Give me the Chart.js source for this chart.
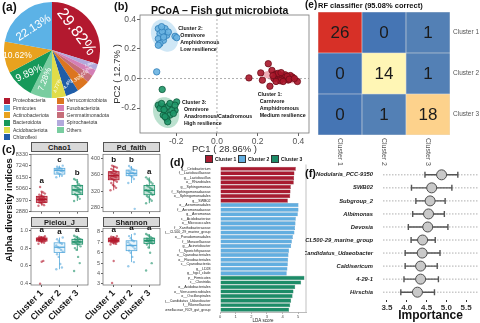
<!DOCTYPE html>
<html><head><meta charset="utf-8">
<script src="https://cdn.jsdelivr.net/npm/chart.js@4.4.1/dist/chart.umd.min.js"></script>
<style>
html,body{margin:0;padding:0;background:#fff;}
#root{position:relative;width:480px;height:323px;overflow:hidden;background:#fff;font-family:'Liberation Sans',Arial,sans-serif;}
.t{position:absolute;white-space:nowrap;line-height:1;color:#111;}
canvas{position:absolute;}
.strip{position:absolute;box-sizing:border-box;background:#d9d9d9;border:0.6px solid #555;font-weight:bold;font-size:7.5px;text-align:center;color:#1a1a1a;}
</style></head><body><div id="root"></div>
<script>
// ---------------- DATA ----------------
// (a) phylum composition
const phyla = ['Proteobacteria','Firmicutes','Actinobacteriota','Bacteroidota','Acidobacteriota','Chloroflexi','Verrucomicrobiota','Fusobacteriota','Gemmatimonadota','Spirochaetota','Others'];
const phylaPercent = [29.82,22.13,10.62,9.89,4.77,4.4,4.35,2.25,2.51,1.98,7.28];
const pieOrder = ['Proteobacteria','Spirochaetota','Fusobacteriota','Gemmatimonadota','Verrucomicrobiota','Chloroflexi','Acidobacteriota','Others','Bacteroidota','Actinobacteriota','Firmicutes'];

// (b) PCoA coordinates [PC1, PC2]
const clusters = ['Cluster 1','Cluster 2','Cluster 3'];
const pcoaCluster1 = [[0.157,0.004],[0.223,-0.011],[0.26,-0.052],[0.215,0.038],[0.252,0.100],[0.270,0.055],[0.290,0.030],[0.300,0.010],[0.310,0.020],[0.320,0.000],[0.330,0.005],[0.340,-0.002],[0.350,-0.010],[0.370,0.010],[0.395,-0.020],[0.310,-0.015],[0.280,0.000],[0.290,-0.020],[0.335,0.025],[0.360,0.020],[0.300,0.035],[0.325,-0.020],[0.345,0.015],[0.275,0.020],[0.315,0.040],[0.355,-0.005],[0.380,0.000]];
const pcoaCluster2 = [[-0.288,0.337],[-0.255,0.337],[-0.280,0.303],[-0.247,0.292],[-0.288,0.269],[-0.263,0.258],[-0.280,0.236],[-0.288,0.225],[-0.206,0.285],[-0.198,0.276],[-0.239,0.314],[-0.269,0.318],[-0.296,0.045],[-0.272,0.350],[-0.262,0.280]];
const pcoaCluster3 = [[-0.269,-0.074],[-0.288,-0.180],[-0.264,-0.191],[-0.239,-0.187],[-0.198,-0.158],[-0.206,-0.214],[-0.255,-0.225],[-0.231,-0.247],[-0.247,-0.270],[-0.264,-0.247],[-0.222,-0.214],[-0.280,-0.202],[-0.242,-0.292],[-0.214,-0.236],[-0.272,-0.169],[-0.231,-0.169],[-0.255,-0.258],[-0.206,-0.180],[-0.260,-0.210]];
const ellipseCenters = [[0.315,0.01],[-0.257,0.29],[-0.25,-0.23]];
const ellipseRadii = [[0.095,0.036],[0.065,0.11],[0.063,0.105]];
const ellipseAngles = [-0.25,0.2,0.15];
const clusterNotes = [['Cluster 1:','Carnivore','Amphidromous','Medium resilience'],['Cluster 2:','Omnivore','Amphidromous','Low resilience'],['Cluster 3:','Omnivore','Anadromous/Catadromous','High resilience']];

// (e) confusion matrix (rows = true, cols = predicted)
const confusion = [[26,0,1],[0,14,1],[0,1,18]];

// (c) alpha diversity: box stats [min, q1, median, q3, max] and sample values
const chao1Box = [[3450,3750,4045,4340,4790],[6150,6450,6800,7000,7250],[3900,4500,4950,5380,5980]];
const chao1Points = [[3450,3500,3600,3700,3750,3800,3850,3900,3950,3980,4000,4020,4045,4060,4100,4150,4180,4200,4250,4300,4340,4400,4500,4600,4700,4790,5230],[6150,6300,6450,6500,6600,6700,6750,6800,6850,6900,6950,7000,7050,7150,7250],[3900,4100,4300,4450,4550,4650,4750,4850,4900,4950,5000,5100,5200,5300,5350,5500,5700,5900,5980]];
const chao1Letters = ['a','c','b'];
const pdBox = [[322,348,358,368,383],[340,358,364,372,382],[290,311,322,334,354]];
const pdPoints = [[322,328,332,335,340,343,346,348,350,352,354,356,357,358,360,362,363,365,366,368,370,372,375,378,380,381,383],[340,350,355,358,360,362,364,366,368,370,372,375,378,382,276],[290,296,300,305,308,311,315,318,320,322,325,328,331,334,338,342,346,350,354]];
const pdLetters = ['b','b','a'];
const pielouBox = [[0.85,0.88,0.90,0.915,0.935],[0.56,0.75,0.81,0.86,0.92],[0.77,0.845,0.87,0.90,0.94]];
const pielouPoints = [[0.85,0.86,0.87,0.875,0.88,0.88,0.885,0.89,0.89,0.895,0.9,0.9,0.9,0.905,0.905,0.91,0.91,0.915,0.915,0.92,0.92,0.925,0.93,0.935,0.655,0.645,0.395],[0.56,0.58,0.62,0.70,0.73,0.76,0.78,0.80,0.81,0.83,0.85,0.86,0.88,0.90,0.92],[0.54,0.63,0.70,0.78,0.80,0.82,0.84,0.85,0.86,0.87,0.87,0.88,0.89,0.90,0.90,0.91,0.92,0.93,0.94]];
const pielouLetters = ['a','a','a'];
const shannonBox = [[6.8,7.05,7.2,7.4,7.6],[5.1,6.2,6.7,7.15,7.8],[6.4,6.9,7.15,7.4,7.8]];
const shannonPoints = [[6.8,6.85,6.9,6.95,7.0,7.05,7.05,7.1,7.1,7.15,7.15,7.2,7.2,7.2,7.25,7.3,7.3,7.35,7.4,7.4,7.45,7.5,7.55,7.6,7.0,5.2,3.1],[4.7,5.1,5.6,6.0,6.2,6.4,6.6,6.7,6.8,7.0,7.1,7.2,7.4,7.6,7.8],[4.3,5.0,6.0,6.5,6.8,6.9,7.0,7.05,7.1,7.15,7.2,7.25,7.3,7.35,7.4,7.5,7.6,7.7,7.8]];
const shannonLetters = ['a','a','a'];

// (d) LEfSe LDA scores
const ldaCluster1Taxa = ['g__Cetobacterium','f__Lactobacillaceae','g__Lactobacillus','o__Rhizobiales','g__Sphingomonas','f__Sphingomonadaceae','o__Sphingomonadales','g__SWB02'];
const ldaCluster1Scores = [4.85,4.76,4.74,4.72,4.53,4.51,4.49,4.34];
const ldaCluster2Taxa = ['o__Aeromonadales','f__Aeromonadaceae','g__Aeromonas','c__Acidobacteriae','o__Micrococcales','f__Xanthobacteraceae','g__CL500_29_marine_group','o__Pseudomonadales','f__Moraxellaceae','g__Acinetobacter','f__Sporichthyaceae','o__Cyanobacteriales','o__Flavobacteriales','c__Cyanobacteriia','g__LD28','g__hgcI_clade'];
const ldaCluster2Scores = [5.02,5.02,4.98,4.85,4.83,4.80,4.76,4.66,4.60,4.55,4.42,4.38,4.36,4.34,4.31,4.27];
const ldaCluster3Taxa = ['p__Firmicutes','c__Clostridia','o__Acidobacteriales','o__Verrucomicrobiales','o__Oscillospirales','g__Candidatus_Udaeobacter','f__Rikenellaceae','g__Rikenellaceae_RC9_gut_group'];
const ldaCluster3Scores = [5.40,5.19,4.81,4.70,4.64,4.55,4.49,4.42];

// (f) random forest importance
const featureNames = ['Nodularia_PCC-9350','SWB02','Subgroup_2','Albimonas','Devosia','CL500-29_marine_group','Candidatus_Udaeobacter','Caldisericum','4-29-1','Hirschia'];
const importanceMean = [4.88,4.63,4.59,4.55,4.53,4.40,4.39,4.35,4.35,4.27];
const importanceLow = [4.46,4.12,4.23,4.15,4.04,4.11,3.96,3.96,3.93,3.85];
const importanceHigh = [5.29,5.14,4.97,4.95,5.04,4.72,4.84,4.77,4.80,4.70];

// ---------------- STYLE / HELPERS ----------------
const FONT = "'Liberation Sans', Arial, sans-serif";
Chart.defaults.font.family = FONT;
Chart.defaults.color = '#4d4d4d';
Chart.defaults.plugins.legend.display = false;
Chart.defaults.plugins.tooltip.enabled = false;
Chart.defaults.animation = false;
const root = document.getElementById('root');
function mk(left, top, w, h, config){
  const c = document.createElement('canvas');
  c.width = w; c.height = h;
  c.style.left = left+'px'; c.style.top = top+'px';
  c.style.width = w+'px'; c.style.height = h+'px';
  root.appendChild(c);
  config.options = config.options || {};
  config.options.responsive = false;
  config.options.maintainAspectRatio = false;
  config.options.devicePixelRatio = 1;
  config.options.animation = false;
  return new Chart(c, config);
}
function txt(s, left, top, css){
  const d = document.createElement('div'); d.className = 't'; d.textContent = s;
  d.style.left = left+'px'; d.style.top = top+'px';
  if (css) d.style.cssText += css;
  root.appendChild(d); return d;
}
const clusterRGB = [[178,24,43],[86,169,220],[26,144,104]];
const rgba = (c,a)=>`rgba(${c[0]},${c[1]},${c[2]},${a})`;
const fmt = (v,d)=>(Math.abs(v)<1e-9?0:v).toFixed(d);

// ---------------- (a) PIE ----------------
const pieColor = {Proteobacteria:'#b3192f',Firmicutes:'#5cb2e6',Actinobacteriota:'#e8a21f',Bacteroidota:'#17995a',Acidobacteriota:'#e0dc48',Chloroflexi:'#1f5da8',Verrucomicrobiota:'#dc7520',Fusobacteriota:'#d47fb6',Gemmatimonadota:'#c66d79',Spirochaetota:'#b2a9dc',Others:'#79cda0'};
// [rotation deg, font px, radius fraction]
const pieLabelStyle = {Proteobacteria:[53,16,0.63],Spirochaetota:[-15,3.5,0.84],Fusobacteriota:[-18,3.5,0.84],Gemmatimonadota:[-22,4,0.82],Verrucomicrobiota:[-27,5,0.8],Chloroflexi:[-55,5,0.78],Acidobacteriota:[-70,5,0.76],Others:[-70,8.5,0.63],Bacteroidota:[-25,10,0.68],Actinobacteriota:[0,8.5,0.73],Firmicutes:[-33,11.5,0.6]};
const pieLabels = {
  id:'pieLabels',
  afterDatasetsDraw(chart){
    const ctx = chart.ctx, meta = chart.getDatasetMeta(0);
    meta.data.forEach((arc,i)=>{
      const name = pieOrder[i]; const [rot,size,fr] = pieLabelStyle[name];
      const mid = (arc.startAngle+arc.endAngle)/2, r = arc.outerRadius*fr;
      ctx.save();
      ctx.translate(arc.x+Math.cos(mid)*r, arc.y+Math.sin(mid)*r);
      ctx.rotate(rot*Math.PI/180);
      ctx.font = `${size}px ${FONT}`; ctx.fillStyle = '#fff';
      ctx.textAlign = 'center'; ctx.textBaseline = 'middle';
      ctx.fillText(chart.data.datasets[0].data[i]+'%',0,0);
      ctx.restore();
    });
  }
};
mk(4,2,96,96,{type:'pie',
  data:{labels:pieOrder, datasets:[{data:pieOrder.map(n=>phylaPercent[phyla.indexOf(n)]), backgroundColor:pieOrder.map(n=>pieColor[n]), borderWidth:0}]},
  options:{layout:{padding:0}},
  plugins:[pieLabels]});
phyla.forEach((n,i)=>{
  const col = i<6?0:1, row = i<6?i:i-6;
  const x = col?57:3.5, y = 97.7+row*7.3;
  const sq = document.createElement('div');
  sq.style.cssText = `position:absolute;left:${x}px;top:${y}px;width:6.5px;height:6px;background:${pieColor[n]}`;
  root.appendChild(sq);
  txt(n, x+9.5, y+0.6, 'font-size:5px;color:#333;');
});

// ---------------- (b) PCoA ----------------
const pcoaFill = ['rgba(168,22,42,0.9)','rgba(105,178,225,0.9)','rgba(30,150,104,0.9)'];
const pcoaEdge = ['#6e0c19','#2f7db8','#0e5a3c'];
const ellFill = ['rgba(226,120,134,0.6)','rgba(160,208,238,0.5)','rgba(120,196,160,0.5)'];
const noteAnchors = [[0.2,-0.106],[-0.19,0.339],[-0.172,-0.160]];
const pcoaPlugin = {
  id:'pcoaExtras',
  beforeDatasetsDraw(chart){
    const {ctx, chartArea:a, scales:{x,y}} = chart;
    ctx.save();
    ctx.beginPath(); ctx.rect(a.left,a.top,a.right-a.left,a.bottom-a.top); ctx.clip();
    ellipseCenters.forEach((c,k)=>{
      const [rx,ry] = ellipseRadii[k], ang = ellipseAngles[k];
      ctx.beginPath();
      for (let s=0;s<=72;s++){
        const t = s/72*2*Math.PI;
        const dx = rx*Math.cos(t), dy = ry*Math.sin(t);
        const px = x.getPixelForValue(c[0]+dx*Math.cos(ang)-dy*Math.sin(ang));
        const py = y.getPixelForValue(c[1]+dx*Math.sin(ang)+dy*Math.cos(ang));
        s?ctx.lineTo(px,py):ctx.moveTo(px,py);
      }
      ctx.closePath(); ctx.fillStyle = ellFill[k]; ctx.fill();
    });
    ctx.strokeStyle = '#8c8c8c'; ctx.lineWidth = 0.7; ctx.setLineDash([2,2]);
    const x0 = x.getPixelForValue(0), y0 = y.getPixelForValue(0);
    ctx.beginPath(); ctx.moveTo(x0,a.top); ctx.lineTo(x0,a.bottom); ctx.moveTo(a.left,y0); ctx.lineTo(a.right,y0); ctx.stroke();
    ctx.restore();
  },
  afterDraw(chart){
    const {ctx, chartArea:a, scales:{x,y}} = chart;
    ctx.save();
    ctx.strokeStyle = '#777'; ctx.lineWidth = 0.8;
    ctx.strokeRect(a.left,a.top,a.right-a.left,a.bottom-a.top);
    ctx.fillStyle = '#111'; ctx.font = `bold 5.3px ${FONT}`; ctx.textBaseline = 'middle';
    clusterNotes.forEach((lines,k)=>{
      const px = x.getPixelForValue(noteAnchors[k][0]), py = y.getPixelForValue(noteAnchors[k][1]);
      lines.forEach((l,j)=>ctx.fillText(l, px+(j?2:0), py+j*7));
    });
    ctx.restore();
  }
};
mk(112,0,200,160,{type:'scatter',
  data:{datasets:[pcoaCluster1,pcoaCluster2,pcoaCluster3].map((pts,k)=>({label:clusters[k], data:pts.map(p=>({x:p[0],y:p[1]})), pointRadius:3.2, pointBackgroundColor:pcoaFill[k], pointBorderColor:pcoaEdge[k], pointBorderWidth:0.8}))},
  options:{layout:{padding:{left:0,right:3,top:15,bottom:5},autoPadding:false},
    scales:{
      x:{type:'linear',min:-0.378,max:0.452,afterFit(s){s.height=22;},border:{display:false},
         grid:{display:true,drawOnChartArea:false,drawTicks:true,tickLength:3,color:'#666'},
         ticks:{stepSize:0.2,includeBounds:false,padding:1,font:{size:8.5},color:'#555',callback:v=>fmt(v,1)},
         title:{display:true,text:'PC1 ( 28.96% )',font:{size:9.5},color:'#333',padding:{top:0,bottom:0}}},
      y:{type:'linear',min:-0.368,max:0.429,afterFit(s){s.width=28;},border:{display:false},
         grid:{display:true,drawOnChartArea:false,drawTicks:true,tickLength:3,color:'#666'},
         ticks:{stepSize:0.2,includeBounds:false,padding:1,font:{size:8.5},color:'#555',callback:v=>fmt(v,1)},
         title:{display:true,text:'PC2 ( 12.7% )',font:{size:9.5},color:'#333',padding:{top:0,bottom:0}}}
    }},
  plugins:[pcoaPlugin]});

// ---------------- (e) HEATMAP ----------------
const maxCount = Math.max(...confusion.flat());
const hmStops = [[0,[69,117,180]],[0.5,[255,255,191]],[0.7,[253,208,138]],[1,[215,48,39]]];
function hmColor(v){
  const t = v/maxCount;
  for (let i=1;i<hmStops.length;i++){
    if (t<=hmStops[i][0]){
      const [t0,c0] = hmStops[i-1], [t1,c1] = hmStops[i], f = (t-t0)/(t1-t0);
      return `rgb(${c0.map((c,j)=>Math.round(c+(c1[j]-c)*f))})`;
    }
  }
}
const rowOrder = [2,1,0];
const heatPlugin = {
  id:'heatText',
  afterDatasetsDraw(chart){
    const {ctx, chartArea:a, scales:{x,y}} = chart;
    ctx.save();
    ctx.font = `17px ${FONT}`; ctx.fillStyle = '#1b1b1b'; ctx.textAlign = 'center'; ctx.textBaseline = 'middle';
    rowOrder.forEach((r,d)=>{
      chart.getDatasetMeta(d).data.forEach((el,c)=>{
        const p = el.getCenterPoint(); ctx.fillText(String(confusion[r][c]), p.x, p.y+1);
      });
    });
    ctx.font = `6.5px ${FONT}`; ctx.fillStyle = '#555'; ctx.textAlign = 'left';
    clusters.forEach((n,r)=>ctx.fillText(n, a.right+3, y.getPixelForValue(2.5-r)));
    ctx.font = `7px ${FONT}`;
    clusters.forEach((n,c)=>{
      ctx.save(); ctx.translate(x.getPixelForValue(c), a.bottom+3); ctx.rotate(Math.PI/2);
      ctx.fillText(n,0,0); ctx.restore();
    });
    ctx.restore();
  }
};
mk(305,0,175,170,{type:'bar',
  data:{labels:clusters, datasets:rowOrder.map(r=>({data:[1,1,1], backgroundColor:confusion[r].map(hmColor), borderColor:'rgba(225,225,225,0.9)', borderWidth:0.6, borderSkipped:false, barPercentage:1, categoryPercentage:1}))},
  options:{layout:{padding:{left:13,right:30,top:12,bottom:35},autoPadding:false},
    scales:{x:{stacked:true,display:false},y:{stacked:true,display:false,min:0,max:3}}},
  plugins:[heatPlugin]});

// ---------------- (c) BOXPLOT FACETS ----------------
const boxFillAlpha = [0.5,0.12,0.25];
function facet(left, top, h, xAxisH, stats, points, letters, yMin, yMax, step, dec, showX){
  const plugin = {
    id:'boxes',
    beforeDatasetsDraw(chart){
      const {ctx, scales:{x,y}} = chart;
      ctx.save();
      stats.forEach((s,i)=>{
        const col = rgba(clusterRGB[i],1);
        const xl = x.getPixelForValue(i+1-0.3), xr = x.getPixelForValue(i+1+0.3), xc = x.getPixelForValue(i+1);
        const [lo,q1,md,q3,hi] = s.map(v=>y.getPixelForValue(v));
        ctx.strokeStyle = col; ctx.lineWidth = 0.8;
        ctx.beginPath(); ctx.moveTo(xc,q3); ctx.lineTo(xc,hi); ctx.moveTo(xc,q1); ctx.lineTo(xc,lo); ctx.stroke();
        ctx.fillStyle = rgba(clusterRGB[i],boxFillAlpha[i]);
        ctx.fillRect(xl,q3,xr-xl,q1-q3); ctx.strokeRect(xl,q3,xr-xl,q1-q3);
        ctx.lineWidth = 1.3; ctx.beginPath(); ctx.moveTo(xl,md); ctx.lineTo(xr,md); ctx.stroke();
      });
      ctx.restore();
    },
    afterDraw(chart){
      const {ctx, chartArea:a, scales:{x,y}} = chart;
      ctx.save();
      ctx.strokeStyle = '#666'; ctx.lineWidth = 0.7;
      ctx.strokeRect(a.left,a.top,a.right-a.left,a.bottom-a.top);
      ctx.fillStyle = '#111'; ctx.font = `bold 8px ${FONT}`; ctx.textAlign = 'center'; ctx.textBaseline = 'middle';
      letters.forEach((l,i)=>{
        const top = Math.max(stats[i][4], ...points[i]);
        ctx.fillText(l, x.getPixelForValue(i+1), y.getPixelForValue(top)-6);
      });
      ctx.restore();
    }
  };
  return mk(left, top, 90, h, {type:'scatter',
    data:{datasets:points.map((pts,k)=>({data:pts.map((v,i)=>({x:k+1+(((i*7)%9)-4)*0.045, y:v})), pointRadius:1.2, pointBorderWidth:0, pointBackgroundColor:rgba(clusterRGB[k],0.6)}))},
    options:{layout:{padding:{left:0,right:2,top:3,bottom:0},autoPadding:false},
      scales:{
        x:{type:'linear',min:0.4,max:3.6,afterFit(s){s.height=xAxisH;},border:{display:false},
           grid:{drawOnChartArea:false,tickLength:2,color:'#666'},
           ticks:{display:showX,stepSize:1,includeBounds:false,autoSkip:false,minRotation:45,maxRotation:45,padding:1,font:{size:9,weight:'bold'},color:'#1a1a1a',callback:v=>clusters[Math.round(v)-1]}},
        y:{type:'linear',min:yMin,max:yMax,afterFit(s){s.width=31;},border:{display:false},
           grid:{drawOnChartArea:false,tickLength:2,color:'#666'},
           ticks:{stepSize:step,includeBounds:false,padding:1,font:{size:5.5},color:'#555',callback:v=>fmt(v,dec)}}
      }},
    plugins:[plugin]});
}
facet(0,150,66,3,chao1Box,chao1Points,chao1Letters,2880,8330,1000,0,false);
facet(72,150,66,3,pdBox,pdPoints,pdLetters,269,411,40,0,false);
facet(0,224,99,38,pielouBox,pielouPoints,pielouLetters,0.381,1.025,0.2,1,true);
facet(72,224,99,38,shannonBox,shannonPoints,shannonLetters,2.9,8.35,1,0,true);
[['Chao1',31,142],['Pd_faith',103,142],['Pielou_J',31,217],['Shannon',103,217]].forEach(([n,l,t])=>{
  const d = document.createElement('div'); d.className = 'strip'; d.textContent = n;
  d.style.cssText += `left:${l}px;top:${t}px;width:57px;height:10px;line-height:9px;`;
  root.appendChild(d);
});

// ---------------- (d) LDA ----------------
const ldaColorSet = ['#a81b30','#62aee0','#1d8c68'];
const ldaEdgeSet = ['#7d1122','#3d86bb','#11674b'];
const ldaLabels = [...ldaCluster1Taxa,...ldaCluster2Taxa,...ldaCluster3Taxa];
const ldaScores = [...ldaCluster1Scores,...ldaCluster2Scores,...ldaCluster3Scores];
const ldaGroup = [...ldaCluster1Taxa.map(()=>0),...ldaCluster2Taxa.map(()=>1),...ldaCluster3Taxa.map(()=>2)];
const ldaPlugin = {
  id:'ldaBorder',
  afterDraw(chart){
    const {ctx, chartArea:a} = chart;
    ctx.save(); ctx.strokeStyle = '#999'; ctx.lineWidth = 0.6;
    ctx.beginPath(); ctx.moveTo(a.right,a.top-2); ctx.lineTo(a.right,a.bottom); ctx.stroke(); ctx.restore();
  }
};
mk(165,150,142,173,{type:'bar',
  data:{labels:ldaLabels, datasets:[{data:ldaScores, backgroundColor:ldaGroup.map(g=>ldaColorSet[g]), borderColor:ldaGroup.map(g=>ldaEdgeSet[g]), borderWidth:0.4, barPercentage:0.9, categoryPercentage:1}]},
  options:{indexAxis:'y', layout:{padding:{left:0,right:1,top:16.5,bottom:0},autoPadding:false},
    scales:{
      x:{type:'linear',min:0,max:5.5,afterFit(s){s.height=11;},border:{display:true,color:'#777',width:0.5},
         grid:{drawOnChartArea:false,tickLength:1.5,color:'#777'},
         ticks:{stepSize:1,includeBounds:false,padding:0.5,font:{size:4},color:'#444'},
         title:{display:true,text:'LDA score',font:{size:4.5},color:'#222',padding:0}},
      y:{afterFit(s){s.width=55;},grid:{display:false},border:{display:false},
         ticks:{autoSkip:false,font:{size:3.6},color:'#222',padding:1.5}}
    }},
  plugins:[ldaPlugin]});

// ---------------- (f) IMPORTANCE ----------------
const whiskerPlugin = {
  id:'whiskers',
  beforeDatasetsDraw(chart){
    const {ctx, chartArea:a, scales:{x,y}} = chart;
    ctx.save();
    ctx.strokeStyle = '#9a9a9a'; ctx.lineWidth = 0.8; ctx.setLineDash([1.5,1.5]);
    featureNames.forEach((n,i)=>{ const py = y.getPixelForValue(i+1); ctx.beginPath(); ctx.moveTo(a.left,py); ctx.lineTo(a.right,py); ctx.stroke(); });
    ctx.setLineDash([]); ctx.strokeStyle = '#555'; ctx.lineWidth = 1.4;
    featureNames.forEach((n,i)=>{
      const py = y.getPixelForValue(i+1), xl = x.getPixelForValue(importanceLow[i]), xh = x.getPixelForValue(importanceHigh[i]);
      ctx.beginPath(); ctx.moveTo(xl,py); ctx.lineTo(xh,py);
      ctx.moveTo(xl,py-3); ctx.lineTo(xl,py+3); ctx.moveTo(xh,py-3); ctx.lineTo(xh,py+3); ctx.stroke();
    });
    ctx.restore();
  }
};
mk(305,160,175,163,{type:'scatter',
  data:{datasets:[{data:featureNames.map((n,i)=>({x:importanceMean[i], y:i+1})), pointRadius:5, pointBackgroundColor:'#c9c9c9', pointBorderColor:'#4d4d4d', pointBorderWidth:1}]},
  options:{layout:{padding:{left:0,right:2,top:7,bottom:0},autoPadding:false},
    scales:{
      x:{type:'linear',min:3.4,max:5.8,afterFit(s){s.height=23;},border:{display:false},
         grid:{drawOnChartArea:false,tickLength:2,color:'#333'},
         ticks:{stepSize:0.5,includeBounds:false,padding:1,font:{size:8,weight:'bold'},color:'#333',callback:v=>fmt(v,1)},
         title:{display:true,text:'Importance',font:{size:12,weight:'bold'},color:'#111',padding:0}},
      y:{type:'linear',min:0.4,max:10.6,reverse:true,afterFit(s){s.width=78;},grid:{display:false},border:{display:false},
         ticks:{stepSize:1,includeBounds:false,autoSkip:false,padding:2,font:{size:5.8,weight:'bold',style:'italic'},color:'#222',callback:v=>featureNames[Math.round(v)-1]}}
    }},
  plugins:[whiskerPlugin]});

// ---------------- TEXT OVERLAYS ----------------
txt('(a)',2,1,'font-size:12px;font-weight:bold;');
txt('(b)',114,1,'font-size:11px;font-weight:bold;');
txt('PCoA – Fish gut microbiota',151,5,'font-size:10.5px;font-weight:bold;');
txt('(e)',305,0,'font-size:10px;font-weight:bold;');
txt('RF classifier (95.08% correct)',318,2,'font-size:7.5px;font-weight:bold;');
txt('(c)',2,144,'font-size:11px;font-weight:bold;');
txt('Alpha diversity indices',9,210,'font-size:9.5px;font-weight:bold;transform:translate(-50%,-50%) rotate(-90deg);');
txt('(d)',170,157,'font-size:11px;font-weight:bold;');
[[205,'Cluster 1',ldaColorSet[0]],[238,'Cluster 2',ldaColorSet[1]],[271,'Cluster 3',ldaColorSet[2]]].forEach(([x,n,c])=>{
  const sq = document.createElement('div');
  sq.style.cssText = `position:absolute;left:${x}px;top:155px;width:8px;height:8px;box-sizing:border-box;border:0.6px solid #333;background:${c}`;
  root.appendChild(sq);
  txt(n,x+10,156.5,'font-size:5px;font-weight:bold;');
});
txt('(f)',305,168,'font-size:11px;font-weight:bold;');
</script></body></html>
